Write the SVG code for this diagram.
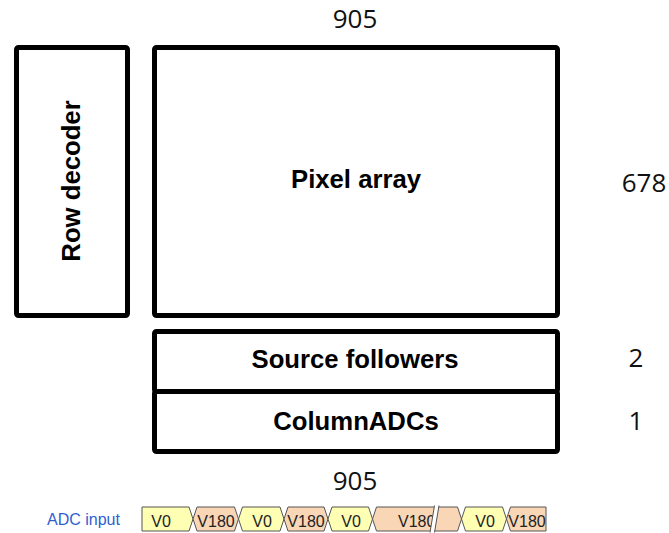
<svg xmlns="http://www.w3.org/2000/svg" width="669" height="533" viewBox="0 0 669 533">
  <style>
    .box { fill: #ffffff; stroke: #000000; stroke-width: 5; }
    .lbl { font-family: "Liberation Sans", Arial, sans-serif; font-weight: bold; font-size: 25.7px; fill: #000000; text-anchor: middle; }
    .num { font-family: "Open Sans", "Noto Sans", sans-serif; font-size: 26px; fill: #111111; text-anchor: middle; }
    .v0 { fill: #ffffb3; stroke: #555555; stroke-width: 1; }
    .v180 { fill: #f9d6b6; stroke: #555555; stroke-width: 1; }
    .wt { font-family: "Liberation Sans", Arial, sans-serif; font-size: 16px; fill: #222222; text-anchor: middle; }
    .ws { font-family: "Liberation Sans", Arial, sans-serif; font-size: 16px; fill: #222222; text-anchor: start; }
  </style>
  <rect width="669" height="533" fill="#ffffff"/>

  <g id="row-decoder">
    <rect class="box" x="16.5" y="47.5" width="111" height="268" rx="2"/>
    <text class="lbl" transform="translate(80,181) rotate(-90)" x="0" y="0">Row decoder</text>
  </g>

  <g id="pixel-array">
    <rect class="box" x="154.5" y="47.5" width="403" height="268" rx="2"/>
    <text class="lbl" x="356" y="188">Pixel array</text>
  </g>

  <g id="source-followers">
    <rect class="box" x="154.5" y="331.5" width="403" height="60" rx="2"/>
    <text class="lbl" x="355" y="368">Source followers</text>
  </g>

  <g id="column-adcs">
    <rect class="box" x="154.5" y="391.5" width="403" height="60" rx="2"/>
    <text class="lbl" x="356" y="430">ColumnADCs</text>
  </g>

  <g id="dimensions">
    <text class="num" x="355" y="27.5">905</text>
    <text class="num" x="644" y="192">678</text>
    <text class="num" x="636" y="367">2</text>
    <text class="num" x="636" y="430">1</text>
    <text class="num" x="355" y="490">905</text>
  </g>

  <g id="adc-input">
    <text x="47" y="525" font-family="Liberation Sans, Arial, sans-serif" font-size="16" fill="#2f5fd0">ADC input</text>
    <polygon class="v0" points="142,507 189,507 193,519 189,531 142,531"/>
    <polygon class="v180" points="193,519 197,507 234.5,507 238.5,519 234.5,531 197,531"/>
    <polygon class="v0" points="238.5,519 242.5,507 280,507 284,519 280,531 242.5,531"/>
    <polygon class="v180" points="284,519 288,507 324,507 328,519 324,531 288,531"/>
    <polygon class="v0" points="328,519 332,507 368.5,507 372.5,519 368.5,531 332,531"/>
    <polygon class="v180" points="372.5,519 376.5,507 457.5,507 461.5,519 457.5,531 376.5,531"/>
    <polygon class="v0" points="461.5,519 465.5,507 502.5,507 506.5,519 502.5,531 465.5,531"/>
    <polygon class="v180" points="506.5,519 510.5,507 546,507 546,531 510.5,531"/>
    <text class="wt" x="161" y="527">V0</text>
    <text class="wt" x="216" y="527">V180</text>
    <text class="wt" x="262" y="527">V0</text>
    <text class="wt" x="306" y="527">V180</text>
    <text class="wt" x="351" y="527">V0</text>
    <text class="ws" x="398" y="527">V180</text>
    <text class="wt" x="485" y="527">V0</text>
    <text class="wt" x="527" y="527">V180</text>
    <polygon points="430,532.5 434.5,505.5 439,505.5 434.5,532.5" fill="#ffffff"/>
    <line x1="430" y1="532.5" x2="434.5" y2="505.5" stroke="#555555" stroke-width="1"/>
    <line x1="434.5" y1="532.5" x2="439" y2="505.5" stroke="#555555" stroke-width="1"/>
  </g>
</svg>
